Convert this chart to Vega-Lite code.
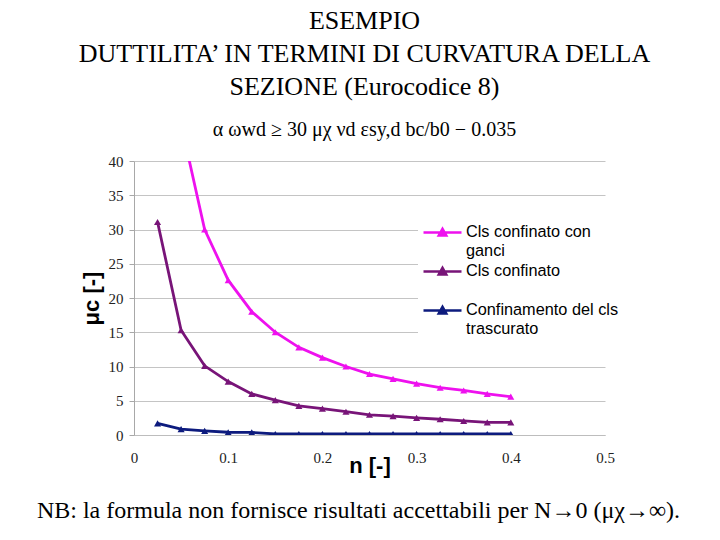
{
  "$schema": "https://vega.github.io/schema/vega-lite/v6.json",
  "background": "white",
  "padding": {"left": 36, "top": 8, "right": 0, "bottom": 0},
  "config": {"view": {"stroke": null}},
  "title": {
    "text": "NB: la formula non fornisce risultati accettabili per N→0 (μχ→∞).",
    "orient": "bottom",
    "anchor": "middle",
    "font": "Liberation Serif",
    "fontSize": 24,
    "fontWeight": "normal",
    "color": "black",
    "offset": 23,
    "dx": -6
  },
  "vconcat": [
    {
      "width": 471,
      "height": 274,
      "title": {
        "text": ["ESEMPIO", "DUTTILITA’ IN TERMINI DI CURVATURA DELLA", "SEZIONE (Eurocodice 8)"],
        "subtitle": "α ωwd ≥ 30 μχ νd εsy,d bc/b0 − 0.035",
        "anchor": "middle",
        "font": "Liberation Serif",
        "fontSize": 26,
        "fontWeight": "normal",
        "lineHeight": 33,
        "color": "black",
        "dx": -5,
        "subtitleFont": "Liberation Serif",
        "subtitleFontSize": 20,
        "subtitleColor": "black",
        "subtitlePadding": 20,
        "offset": 14
      },
      "data": {
        "values": [
          {"n": 0.05, "serie": "Cls confinato con ganci", "mu": 45.4},
          {"n": 0.075, "serie": "Cls confinato con ganci", "mu": 30.0},
          {"n": 0.1, "serie": "Cls confinato con ganci", "mu": 22.6},
          {"n": 0.125, "serie": "Cls confinato con ganci", "mu": 18.0},
          {"n": 0.15, "serie": "Cls confinato con ganci", "mu": 15.0},
          {"n": 0.175, "serie": "Cls confinato con ganci", "mu": 12.8},
          {"n": 0.2, "serie": "Cls confinato con ganci", "mu": 11.3},
          {"n": 0.225, "serie": "Cls confinato con ganci", "mu": 10.0},
          {"n": 0.25, "serie": "Cls confinato con ganci", "mu": 8.9},
          {"n": 0.275, "serie": "Cls confinato con ganci", "mu": 8.2},
          {"n": 0.3, "serie": "Cls confinato con ganci", "mu": 7.5},
          {"n": 0.325, "serie": "Cls confinato con ganci", "mu": 6.9},
          {"n": 0.35, "serie": "Cls confinato con ganci", "mu": 6.5},
          {"n": 0.375, "serie": "Cls confinato con ganci", "mu": 6.0},
          {"n": 0.4, "serie": "Cls confinato con ganci", "mu": 5.6},
          {"n": 0.025, "serie": "Cls confinato", "mu": 31.1},
          {"n": 0.05, "serie": "Cls confinato", "mu": 15.3},
          {"n": 0.075, "serie": "Cls confinato", "mu": 10.1},
          {"n": 0.1, "serie": "Cls confinato", "mu": 7.8},
          {"n": 0.125, "serie": "Cls confinato", "mu": 6.0},
          {"n": 0.15, "serie": "Cls confinato", "mu": 5.1},
          {"n": 0.175, "serie": "Cls confinato", "mu": 4.25},
          {"n": 0.2, "serie": "Cls confinato", "mu": 3.85},
          {"n": 0.225, "serie": "Cls confinato", "mu": 3.4},
          {"n": 0.25, "serie": "Cls confinato", "mu": 2.95},
          {"n": 0.275, "serie": "Cls confinato", "mu": 2.75},
          {"n": 0.3, "serie": "Cls confinato", "mu": 2.5},
          {"n": 0.325, "serie": "Cls confinato", "mu": 2.3},
          {"n": 0.35, "serie": "Cls confinato", "mu": 2.05},
          {"n": 0.375, "serie": "Cls confinato", "mu": 1.85},
          {"n": 0.4, "serie": "Cls confinato", "mu": 1.85},
          {"n": 0.025, "serie": "Confinamento del cls trascurato", "mu": 1.7},
          {"n": 0.05, "serie": "Confinamento del cls trascurato", "mu": 0.85},
          {"n": 0.075, "serie": "Confinamento del cls trascurato", "mu": 0.6},
          {"n": 0.1, "serie": "Confinamento del cls trascurato", "mu": 0.4},
          {"n": 0.125, "serie": "Confinamento del cls trascurato", "mu": 0.38},
          {"n": 0.15, "serie": "Confinamento del cls trascurato", "mu": 0.15},
          {"n": 0.175, "serie": "Confinamento del cls trascurato", "mu": 0.15},
          {"n": 0.2, "serie": "Confinamento del cls trascurato", "mu": 0.15},
          {"n": 0.225, "serie": "Confinamento del cls trascurato", "mu": 0.15},
          {"n": 0.25, "serie": "Confinamento del cls trascurato", "mu": 0.15},
          {"n": 0.275, "serie": "Confinamento del cls trascurato", "mu": 0.15},
          {"n": 0.3, "serie": "Confinamento del cls trascurato", "mu": 0.15},
          {"n": 0.325, "serie": "Confinamento del cls trascurato", "mu": 0.15},
          {"n": 0.35, "serie": "Confinamento del cls trascurato", "mu": 0.15},
          {"n": 0.375, "serie": "Confinamento del cls trascurato", "mu": 0.15},
          {"n": 0.4, "serie": "Confinamento del cls trascurato", "mu": 0.15}
        ]
      },
      "encoding": {
        "x": {
          "field": "n",
          "type": "quantitative",
          "scale": {"domain": [0, 0.5], "nice": false},
          "axis": {
            "values": [0, 0.1, 0.2, 0.3, 0.4, 0.5],
            "format": "~g",
            "grid": false,
            "ticks": false,
            "labelFlush": false,
            "domainColor": "#bdbdbd",
            "labelFont": "Liberation Serif",
            "labelFontSize": 15,
            "labelColor": "#222222",
            "labelPadding": 15,
            "title": "n  [-]",
            "titleFont": "Liberation Sans",
            "titleFontSize": 22,
            "titleFontWeight": "bold",
            "titleColor": "black",
            "titleY": 30,
            "titleBaseline": "middle"
          }
        },
        "y": {
          "field": "mu",
          "type": "quantitative",
          "scale": {"domain": [0, 40], "nice": false},
          "axis": {
            "values": [0, 5, 10, 15, 20, 25, 30, 35, 40],
            "grid": true,
            "gridColor": "#c4c4c4",
            "domainColor": "#a8a8a8",
            "tickColor": "#a8a8a8",
            "tickSize": 5,
            "labelPadding": 6,
            "labelFont": "Liberation Serif",
            "labelFontSize": 15,
            "labelColor": "#222222",
            "title": "μc  [-]",
            "titleFont": "Liberation Sans",
            "titleFontSize": 22,
            "titleFontWeight": "bold",
            "titleColor": "black",
            "titlePadding": 5
          }
        },
        "color": {
          "field": "serie",
          "type": "nominal",
          "scale": {
            "domain": ["Cls confinato con ganci", "Cls confinato", "Confinamento del cls trascurato"],
            "range": ["#EE11EE", "#781478", "#0D1B7E"]
          },
          "legend": {
            "title": null,
            "orient": "none",
            "legendX": 284,
            "legendY": 58,
            "fillColor": "white",
            "padding": 4,
            "rowPadding": 3,
            "clipHeight": 19,
            "symbolType": "M-1,0L1,0M-0.2,0.16L0,-0.2L0.2,0.16Z",
            "symbolSize": 1444,
            "symbolStrokeWidth": 2.5,
            "labelFont": "Liberation Sans",
            "labelFontSize": 16.3,
            "labelColor": "black",
            "labelOffset": 3,
            "labelLimit": 300,
            "labelBaseline": "top",
            "labelExpr": "datum.label == 'Cls confinato con ganci' ? ['Cls confinato con', 'ganci'] : datum.label == 'Cls confinato' ? ['Cls confinato', ''] : ['Confinamento del cls', 'trascurato']",
            "encode": {
              "symbols": {
                "update": {
                  "fill": {"scale": "color", "field": "value"},
                  "stroke": {"scale": "color", "field": "value"}
                }
              },
              "labels": {
                "update": {
                  "lineHeight": {"value": 19},
                  "dy": {"value": -9}
                }
              }
            }
          }
        }
      },
      "layer": [
        {"mark": {"type": "line", "strokeWidth": 2.8, "clip": true}},
        {"mark": {"type": "point", "shape": "triangle-up", "size": 50, "filled": true, "opacity": 1, "clip": true}}
      ]
    }
  ]
}
